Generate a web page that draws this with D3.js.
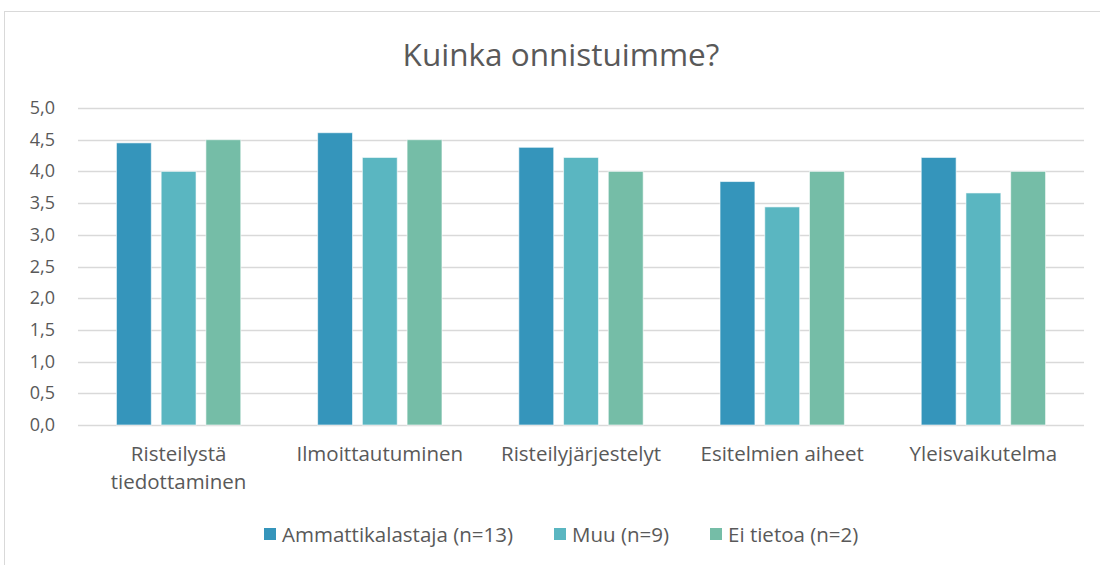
<!DOCTYPE html>
<html>
<head>
<meta charset="utf-8">
<script src="https://cdn.jsdelivr.net/npm/d3@7"></script>
<style>
  body { margin: 0; background: #fff; }
  svg { display: block; font-family: "Open Sans", Lato, sans-serif; }
</style>
</head>
<body>
<svg id="chart" width="1100" height="565"></svg>
<script>
const categories = [['Risteilystä', 'tiedottaminen'], ['Ilmoittautuminen'], ['Risteilyjärjestelyt'], ['Esitelmien aiheet'], ['Yleisvaikutelma']];
const seriesNames = ['Ammattikalastaja (n=13)', 'Muu (n=9)', 'Ei tietoa (n=2)'];
const ammattikalastaja = [4.45, 4.61, 4.38, 3.84, 4.22];
const muu = [4.0, 4.22, 4.22, 3.44, 3.66];
const eiTietoa = [4.5, 4.5, 4.0, 4.0, 4.0];
const yTicks = [0, 0.5, 1, 1.5, 2, 2.5, 3, 3.5, 4, 4.5, 5];

const colors = ['#3595BB', '#5AB6C1', '#75BDA7'],
    textColor = '#595959',
    gridColor = '#D9D9D9';

const svg = d3.select('#chart');
const margin = { left: 78, right: 16, top: 108, bottom: 140 };
const width = 1100 - margin.left - margin.right;

// chart frame
svg.append('rect')
    .attr('x', 4.5).attr('y', 11.5)
    .attr('width', 1110).attr('height', 600)
    .attr('fill', 'none')
    .attr('stroke', gridColor);

svg.append('text')
    .attr('x', 561).attr('y', 66)
    .attr('text-anchor', 'middle')
    .attr('font-size', 31.5)
    .attr('fill', textColor)
    .text('Kuinka onnistuimme?');

const g = svg.append('g').attr('transform', `translate(${margin.left},${margin.top})`);

const x0 = d3.scaleBand().domain(d3.range(categories.length)).range([0, width]).paddingInner(0.382).paddingOuter(0.191);
const x1 = d3.scaleBand().domain(d3.range(seriesNames.length)).range([0, x0.bandwidth()]).paddingInner(0.22).paddingOuter(0);
const y = d3.scaleLinear().domain([0, 5]).range([317, 0]);

// gridlines
g.append('g')
    .selectAll('line')
    .data(yTicks)
    .join('line')
    .attr('x1', 0).attr('x2', width)
    .attr('y1', d => Math.round(y(d)) + 0.5)
    .attr('y2', d => Math.round(y(d)) + 0.5)
    .attr('stroke', gridColor)
    .attr('stroke-width', 1.3);

const fmt = d => d3.format('.1f')(d).replace('.', ',');

g.append('g')
    .selectAll('text')
    .data(yTicks)
    .join('text')
    .attr('x', -23)
    .attr('y', d => y(d) + 6)
    .attr('text-anchor', 'end')
    .attr('font-size', 18)
    .attr('fill', textColor)
    .text(fmt);

const series = [ammattikalastaja, muu, eiTietoa];

series.forEach((vals, s) => {
    g.append('g')
        .selectAll('rect')
        .data(vals)
        .join('rect')
        .attr('x', (d, i) => x0(i) + x1(s))
        .attr('y', d => y(d))
        .attr('width', x1.bandwidth())
        .attr('height', d => y(0) - y(d))
        .attr('fill', colors[s])
        .attr('stroke', '#fff')
        .attr('stroke-opacity', 0.6)
        .attr('stroke-width', 1);
});

// category labels
const labels = g.append('g')
    .selectAll('text')
    .data(categories)
    .join('text')
    .attr('text-anchor', 'middle')
    .attr('font-size', 20.5)
    .attr('fill', textColor)
    .attr('transform', (d, i) => `translate(${x0(i) + x0.bandwidth() / 2},${y(0) + 36})`);

labels.selectAll('tspan')
    .data(d => d)
    .join('tspan')
    .attr('x', 0)
    .attr('dy', (d, i) => i ? 28 : 0)
    .text(d => d);

// legend
const legendX = [264, 554, 710];
const legend = svg.append('g')
    .selectAll('g')
    .data(seriesNames)
    .join('g')
    .attr('transform', (d, i) => `translate(${legendX[i]},528)`);

legend.append('rect')
    .attr('width', 12).attr('height', 12)
    .attr('fill', (d, i) => colors[i]);

legend.append('text')
    .attr('x', 18).attr('y', 14)
    .attr('font-size', 20.5)
    .attr('fill', textColor)
    .text(d => d);
</script>
</body>
</html>
